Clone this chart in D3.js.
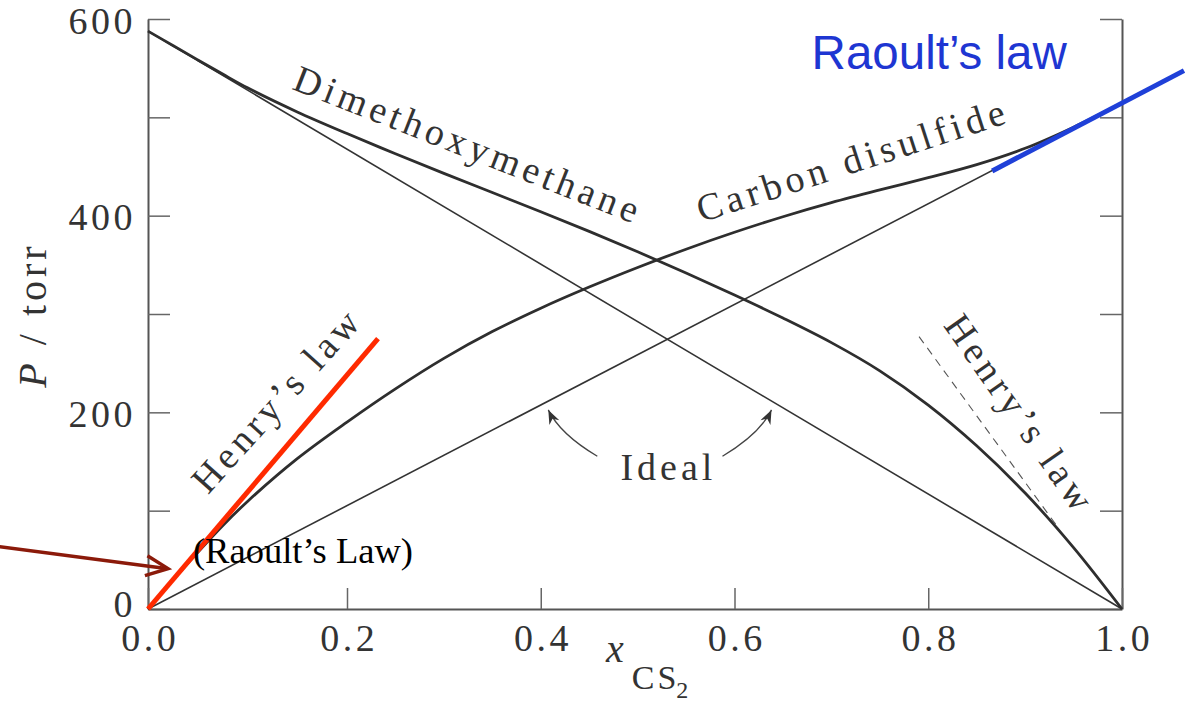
<!DOCTYPE html>
<html><head><meta charset="utf-8">
<script src="https://cdn.jsdelivr.net/npm/d3@7"></script>
<style>
html,body{margin:0;padding:0;background:#fff;}
svg{display:block;}
</style></head><body>
<svg id="chart" width="1190" height="704"></svg>
<script>
// ---------- data ----------
const xTicks = [0, 0.2, 0.4, 0.6, 0.8, 1.0];
const yTicks = [0, 100, 200, 300, 400, 500, 600];
const yTickLabels = [0, 200, 400, 600];

// mole fraction of CS2
const xFrac = [0,0.025,0.05,0.075,0.1,0.15,0.2,0.25,0.3,0.35,0.4,0.45,0.5,0.55,0.6,0.65,0.7,0.75,0.8,0.85,0.9,0.95,1.0];
// partial vapour pressure of carbon disulfide / torr
const pCS2 = [0,29.3,57.6,84.7,109.4,152.9,190.1,223.9,254.9,282.1,305.9,327.4,347.3,365.9,383.1,398.9,413.2,426.2,438.6,451.9,468.5,490,514.5];
// partial vapour pressure of dimethoxymethane / torr
const pDMM = [587.7,573,558.4,544,530,505.5,483.5,463,443,423.5,404,384,363.3,341.7,319.3,295.9,270.9,242.2,207.4,166,117.9,62.5,0];

// ideal (Raoult) lines
const idealX = [0, 1];
const idealCS2 = [0, 514.5];
const idealDMM = [587.7, 0];

// tangent lines
const henryCS2X = [0, 0.232], henryCS2P = [0, 275];              // red Henry's law line
const raoultCS2X = [0.866, 1.064], raoultCS2P = [445.5, 547.5];  // blue Raoult's law line
const henryDMMX = [0.7905, 0.9335], henryDMMP = [277, 83.5];     // dashed Henry's law line

// text annotations (data coordinates)
const labelText = ["Dimethoxymethane", "Carbon disulfide", "Henry\u2019s law", "Henry\u2019s law", "Ideal"];
const labelX = [0.1437, 0.5659, 0.0603, 0.815, 0.4822];
const labelP = [529, 393, 115.7, 288.3, 131];

// ---------- drawing ----------
const svg = d3.select("#chart");
const x = d3.scaleLinear().domain([0, 0.2, 1]).range([148, 347, 1122]);
const y = d3.scaleLinear().domain([0, 600]).range([609, 19]);
const SERIF = '"Liberation Serif","Times New Roman",Times,serif';
const SANS = '"Liberation Sans",Arial,Helvetica,sans-serif';
const INK = "#333";

function styleAxis(g, showText) {
  g.select(".domain").attr("stroke", "#555").attr("stroke-width", 2);
  g.selectAll(".tick line").attr("stroke", "#666").attr("stroke-width", 1.5);
  g.selectAll(".tick text")
    .attr("fill", INK)
    .style("font-family", SERIF)
    .style("font-size", "38px")
    .style("letter-spacing", "3.5px");
  if (!showText) g.selectAll(".tick text").remove();
}

// left axis
const gL = svg.append("g")
  .attr("transform", `translate(${x(0)},0)`)
  .call(d3.axisLeft(y).tickValues(yTicks).tickSizeInner(-22).tickSizeOuter(0).tickPadding(12)
    .tickFormat(d => yTickLabels.includes(d) ? String(d) : ""));
styleAxis(gL, true);
gL.selectAll(".tick text").attr("dy", d => d === 0 ? "0.2em" : "0.37em");

// right axis
const gR = svg.append("g")
  .attr("transform", `translate(${x(1)},0)`)
  .call(d3.axisRight(y).tickValues(yTicks).tickSizeInner(-22).tickSizeOuter(0).tickFormat(""));
styleAxis(gR, false);

// bottom axis
const gB = svg.append("g")
  .attr("transform", `translate(0,${y(0)})`)
  .call(d3.axisBottom(x).tickValues(xTicks).tickSizeInner(-21).tickSizeOuter(0).tickPadding(15)
    .tickFormat(d3.format(".1f")));
styleAxis(gB, true);
gB.selectAll(".tick text").attr("dx", "1.75");

// lines
const line = d3.line().x(d => x(d[0])).y(d => y(d[1]));
const curve = d3.line().x(d => x(d[0])).y(d => y(d[1])).curve(d3.curveCatmullRom.alpha(0.5));

// ideal lines
svg.append("path").datum(idealX.map((v, i) => [v, idealCS2[i]]))
  .attr("d", line).attr("fill", "none").attr("stroke", INK).attr("stroke-width", 1.6);
svg.append("path").datum(idealX.map((v, i) => [v, idealDMM[i]]))
  .attr("d", line).attr("fill", "none").attr("stroke", INK).attr("stroke-width", 1.6);

// real curves
svg.append("path").datum(xFrac.map((v, i) => [v, pCS2[i]]))
  .attr("d", curve).attr("fill", "none").attr("stroke", "#2e2e2e").attr("stroke-width", 2.8);
svg.append("path").datum(xFrac.map((v, i) => [v, pDMM[i]]))
  .attr("d", curve).attr("fill", "none").attr("stroke", "#2e2e2e").attr("stroke-width", 2.8);

// dashed Henry's law (DMM)
svg.append("path").datum(henryDMMX.map((v, i) => [v, henryDMMP[i]]))
  .attr("d", line).attr("fill", "none").attr("stroke", "#555").attr("stroke-width", 1.1)
  .attr("stroke-dasharray", "8,6");

// red Henry's law line (CS2)
svg.append("path").datum(henryCS2X.map((v, i) => [v, henryCS2P[i]]))
  .attr("d", line).attr("fill", "none").attr("stroke", "#ff2a00").attr("stroke-width", 5);

// blue Raoult's law line
svg.append("path").datum(raoultCS2X.map((v, i) => [v, raoultCS2P[i]]))
  .attr("d", line).attr("fill", "none").attr("stroke", "#1f40d8").attr("stroke-width", 5);

// curve labels
const labelAngle = [21.5, -18, -48, 55, 0];
const labelLS = [4.5, 4.5, 4.5, 4.5, 4];
labelText.forEach((t, i) => {
  svg.append("text")
    .attr("transform", `translate(${x(labelX[i])},${y(labelP[i])}) rotate(${labelAngle[i]})`)
    .attr("fill", INK)
    .style("font-family", SERIF).style("font-size", "38px")
    .style("letter-spacing", labelLS[i] + "px")
    .text(t);
});

// "Ideal" curved arrows
const idealArrows = [
  {s: [0.4584, 155.3], c: [0.4196, 178.2], t: [0.4078, 202.5]},
  {s: [0.5876, 155.3], c: [0.6264, 178.2], t: [0.6382, 202.5]}
];
idealArrows.forEach(a => {
  const S = [x(a.s[0]), y(a.s[1])], C = [x(a.c[0]), y(a.c[1])], T = [x(a.t[0]), y(a.t[1])];
  svg.append("path")
    .attr("d", `M${S[0]},${S[1]} Q${C[0]},${C[1]} ${T[0]},${T[1]}`)
    .attr("fill", "none").attr("stroke", "#444").attr("stroke-width", 1.3);
  const dx = T[0] - C[0], dy = T[1] - C[1], L = Math.hypot(dx, dy);
  const ux = dx / L, uy = dy / L, px = -uy, py = ux;
  const len = 14, hw = 5.5;
  const b = [T[0] - ux * len, T[1] - uy * len];
  const n = [T[0] - ux * len * 0.7, T[1] - uy * len * 0.7];
  svg.append("path")
    .attr("d", `M${T[0]},${T[1]} L${b[0] + px * hw},${b[1] + py * hw} L${n[0]},${n[1]} L${b[0] - px * hw},${b[1] - py * hw} Z`)
    .attr("fill", "#333");
});

// dark-red pointer arrow
const ptrFrom = [-0.154, 64], ptrTo = [0.0201, 41.1];
{
  const A = [x(ptrFrom[0]), y(ptrFrom[1])], B = [x(ptrTo[0]), y(ptrTo[1])];
  svg.append("line").attr("x1", A[0]).attr("y1", A[1]).attr("x2", B[0] - 2).attr("y2", B[1])
    .attr("stroke", "#8b1a0a").attr("stroke-width", 3.5);
  const dx = B[0] - A[0], dy = B[1] - A[1], L = Math.hypot(dx, dy);
  const ux = dx / L, uy = dy / L, px = -uy, py = ux;
  const back = 22, w = 10;
  svg.append("path")
    .attr("d", `M${B[0] - ux * back + px * w},${B[1] - uy * back + py * w} L${B[0]},${B[1]} L${B[0] - ux * back - px * w},${B[1] - uy * back - py * w}`)
    .attr("fill", "none").attr("stroke", "#8b1a0a").attr("stroke-width", 3.5)
    .attr("stroke-linejoin", "miter");
}

// "(Raoult's Law)" black label
svg.append("text")
  .attr("x", x(0.0452)).attr("y", y(46.4))
  .attr("fill", "#000")
  .style("font-family", SERIF).style("font-size", "36.5px")
  .text("(Raoult\u2019s Law)");

// blue "Raoult's law" label
svg.append("text")
  .attr("x", x(0.6796)).attr("y", y(548.9))
  .attr("fill", "#1e36d2")
  .style("font-family", SANS).style("font-size", "47.5px")
  .text("Raoult\u2019s law");

// y-axis title
const yt = svg.append("text")
  .attr("transform", `translate(46,315) rotate(-90)`)
  .attr("text-anchor", "middle")
  .attr("fill", INK)
  .style("font-family", SERIF).style("font-size", "40px").style("letter-spacing", "4px");
yt.append("tspan").style("font-style", "italic").text("P");
yt.append("tspan").text(" / torr");

// x-axis title
const xt = svg.append("text")
  .attr("x", 606).attr("y", 662)
  .attr("fill", INK)
  .style("font-family", SERIF);
xt.append("tspan").style("font-style", "italic").style("font-size", "40px").text("x");
xt.append("tspan").attr("dx", 8).attr("dy", 27).style("font-size", "34px").style("letter-spacing", "3px").text("CS");
xt.append("tspan").attr("dx", -3).attr("dy", 9).style("font-size", "24px").text("2");
</script>
</body></html>
